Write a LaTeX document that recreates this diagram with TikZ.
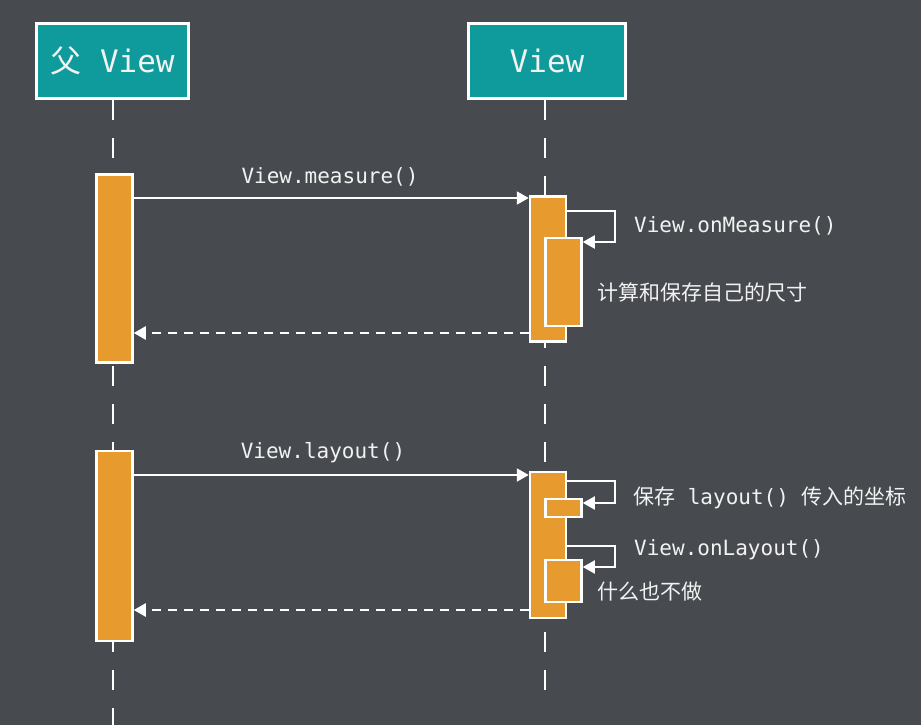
\documentclass[tikz,border=0pt]{standalone}
\usepackage{fontspec}
\setmainfont{DejaVu Sans Mono}
\newfontfamily\cjk{Noto Sans CJK SC}
\usetikzlibrary{arrows.meta}
\definecolor{bgc}{HTML}{474A4F}
\definecolor{tealc}{HTML}{0F9A9B}
\definecolor{orangec}{HTML}{E79B2E}
\definecolor{txtc}{HTML}{F2F2F2}
\begin{document}
\begin{tikzpicture}[x=1pt,y=-1pt,
  head/.style={draw=white,line width=3pt,fill=tealc,inner sep=0pt,text=txtc,font=\fontsize{31}{31}\selectfont},
  act/.style={draw=white,line width=2.5pt,fill=orangec,inner sep=0pt,minimum width=36pt},
  life/.style={draw=white,line width=2.5pt,dash pattern=on 20pt off 18pt},
  msg/.style={draw=white,line width=2pt,-{Triangle[length=12pt,width=13pt]}},
  ret/.style={draw=white,line width=2.5pt,dash pattern=on 9pt off 7pt,-{Triangle[length=12pt,width=13pt]}},
  lbl/.style={text=txtc,inner sep=0pt,font=\fontsize{21}{21}\selectfont}
]
\fill[bgc] (0,0) rectangle (921,725);
\useasboundingbox (0,0) rectangle (921,725);

% heads
\node[head,minimum width=152pt,minimum height=75pt] (ph) at (112.5,61) {{\cjk 父} View};
\node[head,minimum width=157pt,minimum height=75pt] (vh) at (547,61) {View};

% lifelines
\coordinate (lend) at (0,725);
\coordinate (rend) at (0,705);
\draw[life] (113,100) coordinate (ltop) -- (ltop|-lend);
\draw[life] (545,100) coordinate (rtop) -- (rtop|-rend);

% activations
\node[act,minimum height=188pt] (la1) at (114.5,268.5) {};
\node[act,minimum height=190pt] (la2) at (114.5,546) {};
\node[act,minimum height=145pt] (ra1) at (548,269) {};
\node[act,minimum height=146pt] (ra2) at (548,545) {};
\node[act,minimum height=88pt] (rn1) at (563.5,282) {};
\node[act,minimum height=18pt] (rn2) at (563.5,508) {};
\node[act,minimum height=42pt] (rn3) at (563.5,581) {};

% measure
\coordinate (m1) at (0,198);
\draw[msg] (la1.east|-m1) -- (ra1.west|-m1);
\node[lbl] (t1) at (330,177) {View.measure()};
\coordinate (s1a) at (0,211);
\coordinate (s1b) at (615,242);
\draw[msg] (ra1.east|-s1a) -| (s1b) -- (rn1.east|-s1b);
\node[lbl,anchor=west] (t2) at (634,226) {View.onMeasure()};
\node[lbl,anchor=west] (t3) at (597,293) {\cjk 计算和保存自己的尺寸};
\coordinate (r1) at (0,333);
\draw[ret] (ra1.west|-r1) -- (la1.east|-r1);

% layout
\coordinate (m2) at (0,475);
\draw[msg] (la2.east|-m2) -- (ra2.west|-m2);
\node[lbl] (t4) at (323,453) {View.layout()};
\coordinate (s2a) at (0,481);
\coordinate (s2b) at (615,503);
\draw[msg] (ra2.east|-s2a) -| (s2b) -- (rn2.east|-s2b);
\node[lbl,anchor=west] (t5) at (633,498) {{\cjk 保存} layout() {\cjk 传入的坐标}};
\coordinate (s3a) at (0,546);
\coordinate (s3b) at (615,567);
\draw[msg] (ra2.east|-s3a) -| (s3b) -- (rn3.east|-s3b);
\node[lbl,anchor=west] (t6) at (634,550) {View.onLayout()};
\node[lbl,anchor=west] (t7) at (597,592) {\cjk 什么也不做};
\coordinate (r2) at (0,610);
\draw[ret] (ra2.west|-r2) -- (la2.east|-r2);
\end{tikzpicture}
\end{document}
